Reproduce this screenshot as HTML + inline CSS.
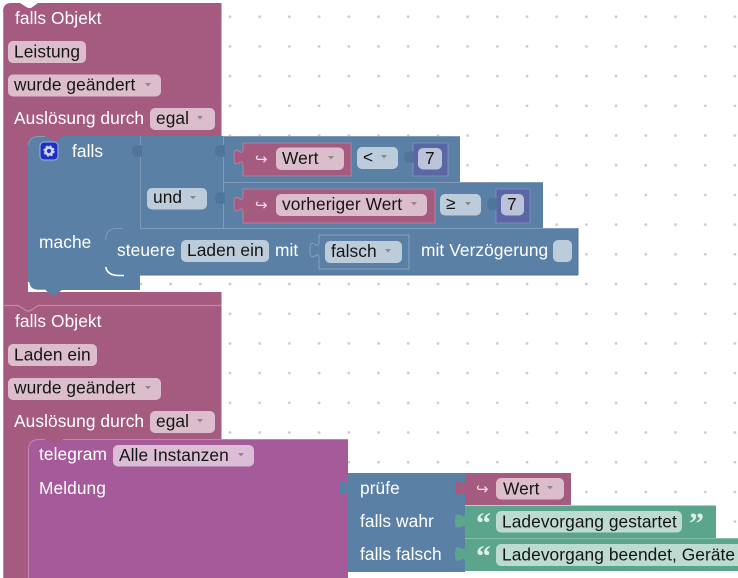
<!DOCTYPE html>
<html><head><meta charset="utf-8"><style>
html,body{margin:0;padding:0;background:#fff}
svg{display:block}
text{font-family:"Liberation Sans",Arial,sans-serif;font-size:17.33px;letter-spacing:.07px;fill:#fff}
text.d{fill:#151515}
text.q{font-family:"Liberation Serif",serif;font-size:30px;font-weight:bold;fill:#dcefe8}
text.r{font-family:"DejaVu Sans",sans-serif;font-size:15px;fill:#eedde6}
.f{rx:5px;ry:5px}
</style></head><body>
<svg width="738" height="578" viewBox="0 0 738 578" xmlns="http://www.w3.org/2000/svg">
<defs>
<pattern id="dots" x="230" y="16.7" width="29.7" height="29.7" patternUnits="userSpaceOnUse">
<circle cx="0" cy="0" r="1.4" fill="#ccc"/><circle cx="29.7" cy="0" r="1.4" fill="#ccc"/><circle cx="0" cy="29.7" r="1.4" fill="#ccc"/><circle cx="29.7" cy="29.7" r="1.4" fill="#ccc"/>
</pattern>
<path id="tab" d="M1 0 V2 C-2 3 -9 0 -9 8 S-2 13 1 14 V16 Z"/>
<path id="arr" d="M0 0 H6 L3 3.500 Z" fill="#8a8a8a"/>
</defs>
<rect x="0" y="0" width="738" height="578" fill="#fff"/>
<rect x="140" y="0" width="598" height="578" fill="url(#dots)"/>

<!-- event blocks -->
<path d="M3 12 Q3 3 11 3 H20 L28 8 H31 L38 3 H221.500 V150 H28 V292 H221.500 V578 H3 Z" fill="#a55b80"/>
<path d="M3 305.500 H18 L27 311 H30 L38 305.500 H221.500" fill="none" stroke="#bf8aa5" stroke-width="1.2"/>
<path d="M3.500 12 V578" fill="none" stroke="#bd86a2" stroke-width="1"/>

<text x="15" y="24">falls Objekt</text>
<rect class="f" x="8" y="41" width="78" height="22" fill="#dbbdcc"/><text class="d" x="14" y="57.500">Leistung</text>
<rect class="f" x="8" y="74.500" width="153" height="22" fill="#dbbdcc"/><text class="d" x="14" y="90.500">wurde geändert</text><use href="#arr" x="145" y="83"/>
<text x="14" y="124">Auslösung durch</text>
<rect class="f" x="150" y="108" width="65" height="22" fill="#dbbdcc"/><text class="d" x="156" y="124">egal</text><use href="#arr" x="197" y="116"/>

<text x="15" y="327">falls Objekt</text>
<rect class="f" x="8" y="344" width="89" height="22" fill="#dbbdcc"/><text class="d" x="14" y="360.500">Laden ein</text>
<rect class="f" x="8" y="378" width="153" height="22" fill="#dbbdcc"/><text class="d" x="14" y="393.500">wurde geändert</text><use href="#arr" x="145" y="386"/>
<text x="14" y="427">Auslösung durch</text>
<rect class="f" x="150" y="411" width="65" height="22" fill="#dbbdcc"/><text class="d" x="156" y="427">egal</text><use href="#arr" x="197" y="419"/>

<!-- if block -->
<path d="M28 146 Q28 136 38 136 H45 L53 141 H56 L63 136 H460 V182 H543 V228 H578 V275 H140 V290 H62 L55 295 H52 L45 290 H36 Q28 290 28 282 Z" fill="#5b80a5"/>
<path d="M28.500 282 Q29 290 38 290.500 H46" fill="none" stroke="#fff" stroke-width="1.6"/>
<path d="M140.500 136 V228 M223.500 136 V228 M224 182.500 H543 M224 136.500 H460" stroke="#7f9bb8" stroke-width="1" fill="none"/>
<path d="M28.500 146 Q29 137 38 136.500 H45" stroke="#7f9bb8" stroke-width="1" fill="none"/>
<path d="M105 275 V238 Q105 228 115 228 H122 L130 233 H133 L140 228 H578 V275 H140 L133 279 H130 L123 275 H115 Q105 275 105 268 Z" fill="#5b80a5"/>
<path d="M105.800 267 Q107 275 118 275.500 H124" fill="none" stroke="#fff" stroke-width="1.6"/>
<path d="M105.500 240 Q106 229 116 228.500 H122 M140 228.500 H578" fill="none" stroke="#7f9bb8" stroke-width="1"/>
<path d="M140 275 H578 M578 228 V275" stroke="#527393" stroke-width="1" fill="none"/>

<rect x="40" y="142" width="18" height="18" rx="4" fill="#1f2fc4" stroke="#9fb0e8" stroke-width="1"/>
<circle cx="49" cy="151" r="3.400" fill="none" stroke="#cfd6f5" stroke-width="2.600"/>
<circle cx="49" cy="151" r="5" fill="none" stroke="#cfd6f5" stroke-width="1.400" stroke-dasharray="2 2"/>
<text x="72" y="157">falls</text>
<text x="39" y="248" fill="#eaf2f8">mache</text>
<use href="#tab" x="141" y="143" fill="#50759a"/>
<use href="#tab" x="224" y="143" fill="#50759a"/>
<use href="#tab" x="224" y="190" fill="#50759a"/>
<rect class="f" x="147" y="188" width="60" height="21.500" fill="#bdccdb"/><text class="d" x="153" y="203">und</text><use href="#arr" x="190" y="196"/>

<!-- compare 1 -->
<path d="M243 143 H351 V176 H243 V165 c0,-10 -9,8 -9,-8 s9,2.500 9,-8 Z" fill="#a55b80" stroke="#bd86a2" stroke-width=".8"/>
<text class="r" x="255" y="164">↪</text>
<rect class="f" x="276" y="147.500" width="68" height="22.500" fill="#dbbdcc"/><text class="d" x="282" y="164">Wert</text><use href="#arr" x="328" y="156"/>
<rect class="f" x="357" y="147" width="41" height="22" fill="#bdccdb"/><text class="d" x="363" y="163">&lt;</text><use href="#arr" x="381" y="155"/>
<path d="M413 143 H448 V176 H413 Z" fill="#5b67a5" stroke="#8a93c0" stroke-width=".8"/>
<use href="#tab" x="413" y="149" fill="#50759a"/>
<rect class="f" x="418" y="148" width="24" height="21.500" fill="#bdc2db"/><text class="d" x="425" y="164">7</text>

<!-- compare 2 -->
<path d="M243 189 H435 V223 H243 V212 c0,-10 -9,8 -9,-8 s9,2.500 9,-8 Z" fill="#a55b80" stroke="#bd86a2" stroke-width=".8"/>
<text class="r" x="255" y="210">↪</text>
<rect class="f" x="276" y="194" width="151" height="22" fill="#dbbdcc"/><text class="d" x="282" y="210">vorheriger Wert</text><use href="#arr" x="411" y="202"/>
<rect class="f" x="440" y="194" width="41" height="21.500" fill="#bdccdb"/><text class="d" x="446" y="209">≥</text><use href="#arr" x="465" y="202"/>
<path d="M496 189 H530 V223 H496 Z" fill="#5b67a5" stroke="#8a93c0" stroke-width=".8"/>
<use href="#tab" x="496" y="196" fill="#50759a"/>
<rect class="f" x="501" y="194" width="23" height="21.500" fill="#bdc2db"/><text class="d" x="507" y="210">7</text>

<!-- steuere -->
<text x="117" y="256">steuere</text>
<rect class="f" x="181" y="240" width="88" height="22" fill="#bdccdb"/><text class="d" x="187" y="256">Laden ein</text>
<text x="275" y="256">mit</text>
<path d="M319 235 H409 V269 H319 V258 c0,-10 -9,8 -9,-8 s9,2.500 9,-8 Z" fill="#5b80a5" stroke="#86a2bd" stroke-width="1"/>
<rect class="f" x="325" y="241" width="77" height="22" fill="#bdccdb"/><text class="d" x="331" y="257">falsch</text><use href="#arr" x="385" y="249"/>
<text x="421" y="256">mit Verzögerung</text>
<rect class="f" x="553" y="240" width="19" height="22" fill="#bdccdb"/>

<!-- telegram -->
<path d="M28 449 Q28 439 38 439 H45 L53 444 H56 L63 439 H348 V578 H28 Z" fill="#a55b99"/>
<path d="M28.500 578 V449 Q29 440 38 439.500 H45 M63 439.500 H348" fill="none" stroke="#bd86b3" stroke-width="1"/>
<text x="39" y="460" fill="#f3e6f0">telegram</text>
<rect class="f" x="113" y="445" width="141" height="21.500" fill="#dbbdd6"/><text class="d" x="119" y="461">Alle Instanzen</text><use href="#arr" x="238" y="453"/>
<text x="39" y="494" fill="#f3e6f0">Meldung</text>

<!-- prufe -->
<path d="M348 473 H465 V572 H348 V496 c0,-10 -9,8 -9,-8 s9,2.500 9,-8 Z" fill="#5b80a5"/>
<text x="360" y="494">prüfe</text>
<text x="360" y="527">falls wahr</text>
<text x="360" y="560">falls falsch</text>
<path d="M465 473 H571 V505 H465 V496 c0,-10 -10,8 -10,-8 s10,2.500 10,-8 Z" fill="#a55b80"/>
<text class="r" x="476" y="494">↪</text>
<rect class="f" x="496" y="478" width="68" height="21.500" fill="#dbbdcc"/><text class="d" x="503" y="494.500">Wert</text><use href="#arr" x="547" y="486"/>
<path d="M465 505.500 H716 V538 H465 V529 c0,-10 -10,8 -10,-8 s10,2.500 10,-8 Z" fill="#5ba58c"/>
<text class="q" x="476" y="533">“</text>
<rect class="f" x="496" y="511" width="186" height="21.500" fill="#bddbd1"/><text class="d" x="502" y="527.500">Ladevorgang gestartet</text>
<text class="q" x="689" y="533">”</text>
<path d="M465 538.500 H738 V571 H465 V562 c0,-10 -10,8 -10,-8 s10,2.500 10,-8 Z" fill="#5ba58c"/>
<path d="M465 538.500 H738" stroke="#86bda9" stroke-width="1"/>
<text class="q" x="476" y="566">“</text>
<rect class="f" x="496" y="544" width="250" height="22" fill="#bddbd1"/><text class="d" x="502" y="560.500">Ladevorgang beendet, Geräte</text>
</svg>
</body></html>
